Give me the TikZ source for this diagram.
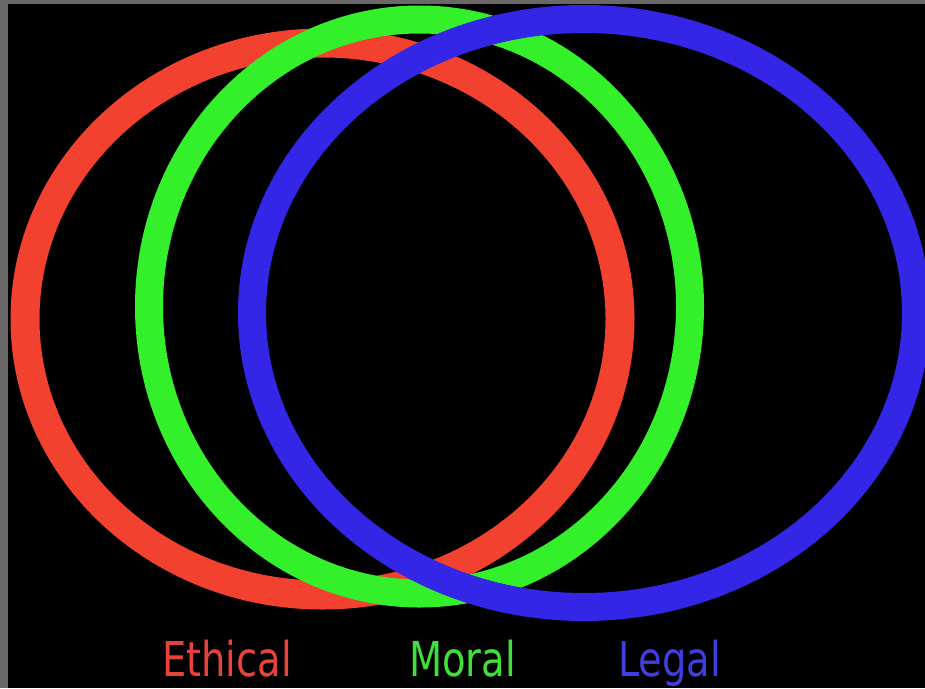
\documentclass[tikz,border=0pt]{standalone}
\usepackage{fontspec}
\setmainfont{DejaVu Sans}[FakeStretch=0.8]
\definecolor{frame}{HTML}{6A6866}
\definecolor{redring}{HTML}{F2412F}
\definecolor{greenring}{HTML}{33F02A}
\definecolor{bluering}{HTML}{3326E6}
\definecolor{redtext}{HTML}{E8433A}
\definecolor{greentext}{HTML}{3FE03A}
\definecolor{bluetext}{HTML}{3F3FE0}
\tikzset{
  ring/.style={line width=28pt},
  label/.style={font=\fontsize{48}{58}\selectfont, anchor=base, inner sep=0pt}
}
\begin{document}
\begin{tikzpicture}[x=1pt,y=-1pt]
\useasboundingbox (0,0) rectangle (925,688);
\fill[frame] (0,0) rectangle (925,688);
\fill[black] (8,4) rectangle (925,688);
\begin{scope}
\clip (8,4) rectangle (925,688);
\draw[ring, redring, line width=29pt] (322.5,319) ellipse [x radius=297.5, y radius=276];
\draw[ring, greenring] (419.5,306.5) ellipse [x radius=270.5, y radius=287];
\draw[ring, bluering] (584,313) ellipse [x radius=332, y radius=294];
\end{scope}
\node[label, text=redtext] (ethical) at (227,676) {Ethical};
\node[label, text=greentext] (moral) at (462.5,676) {Moral};
\node[label, text=bluetext] (legal) at (669.5,676) {Legal};
\end{tikzpicture}
\end{document}
